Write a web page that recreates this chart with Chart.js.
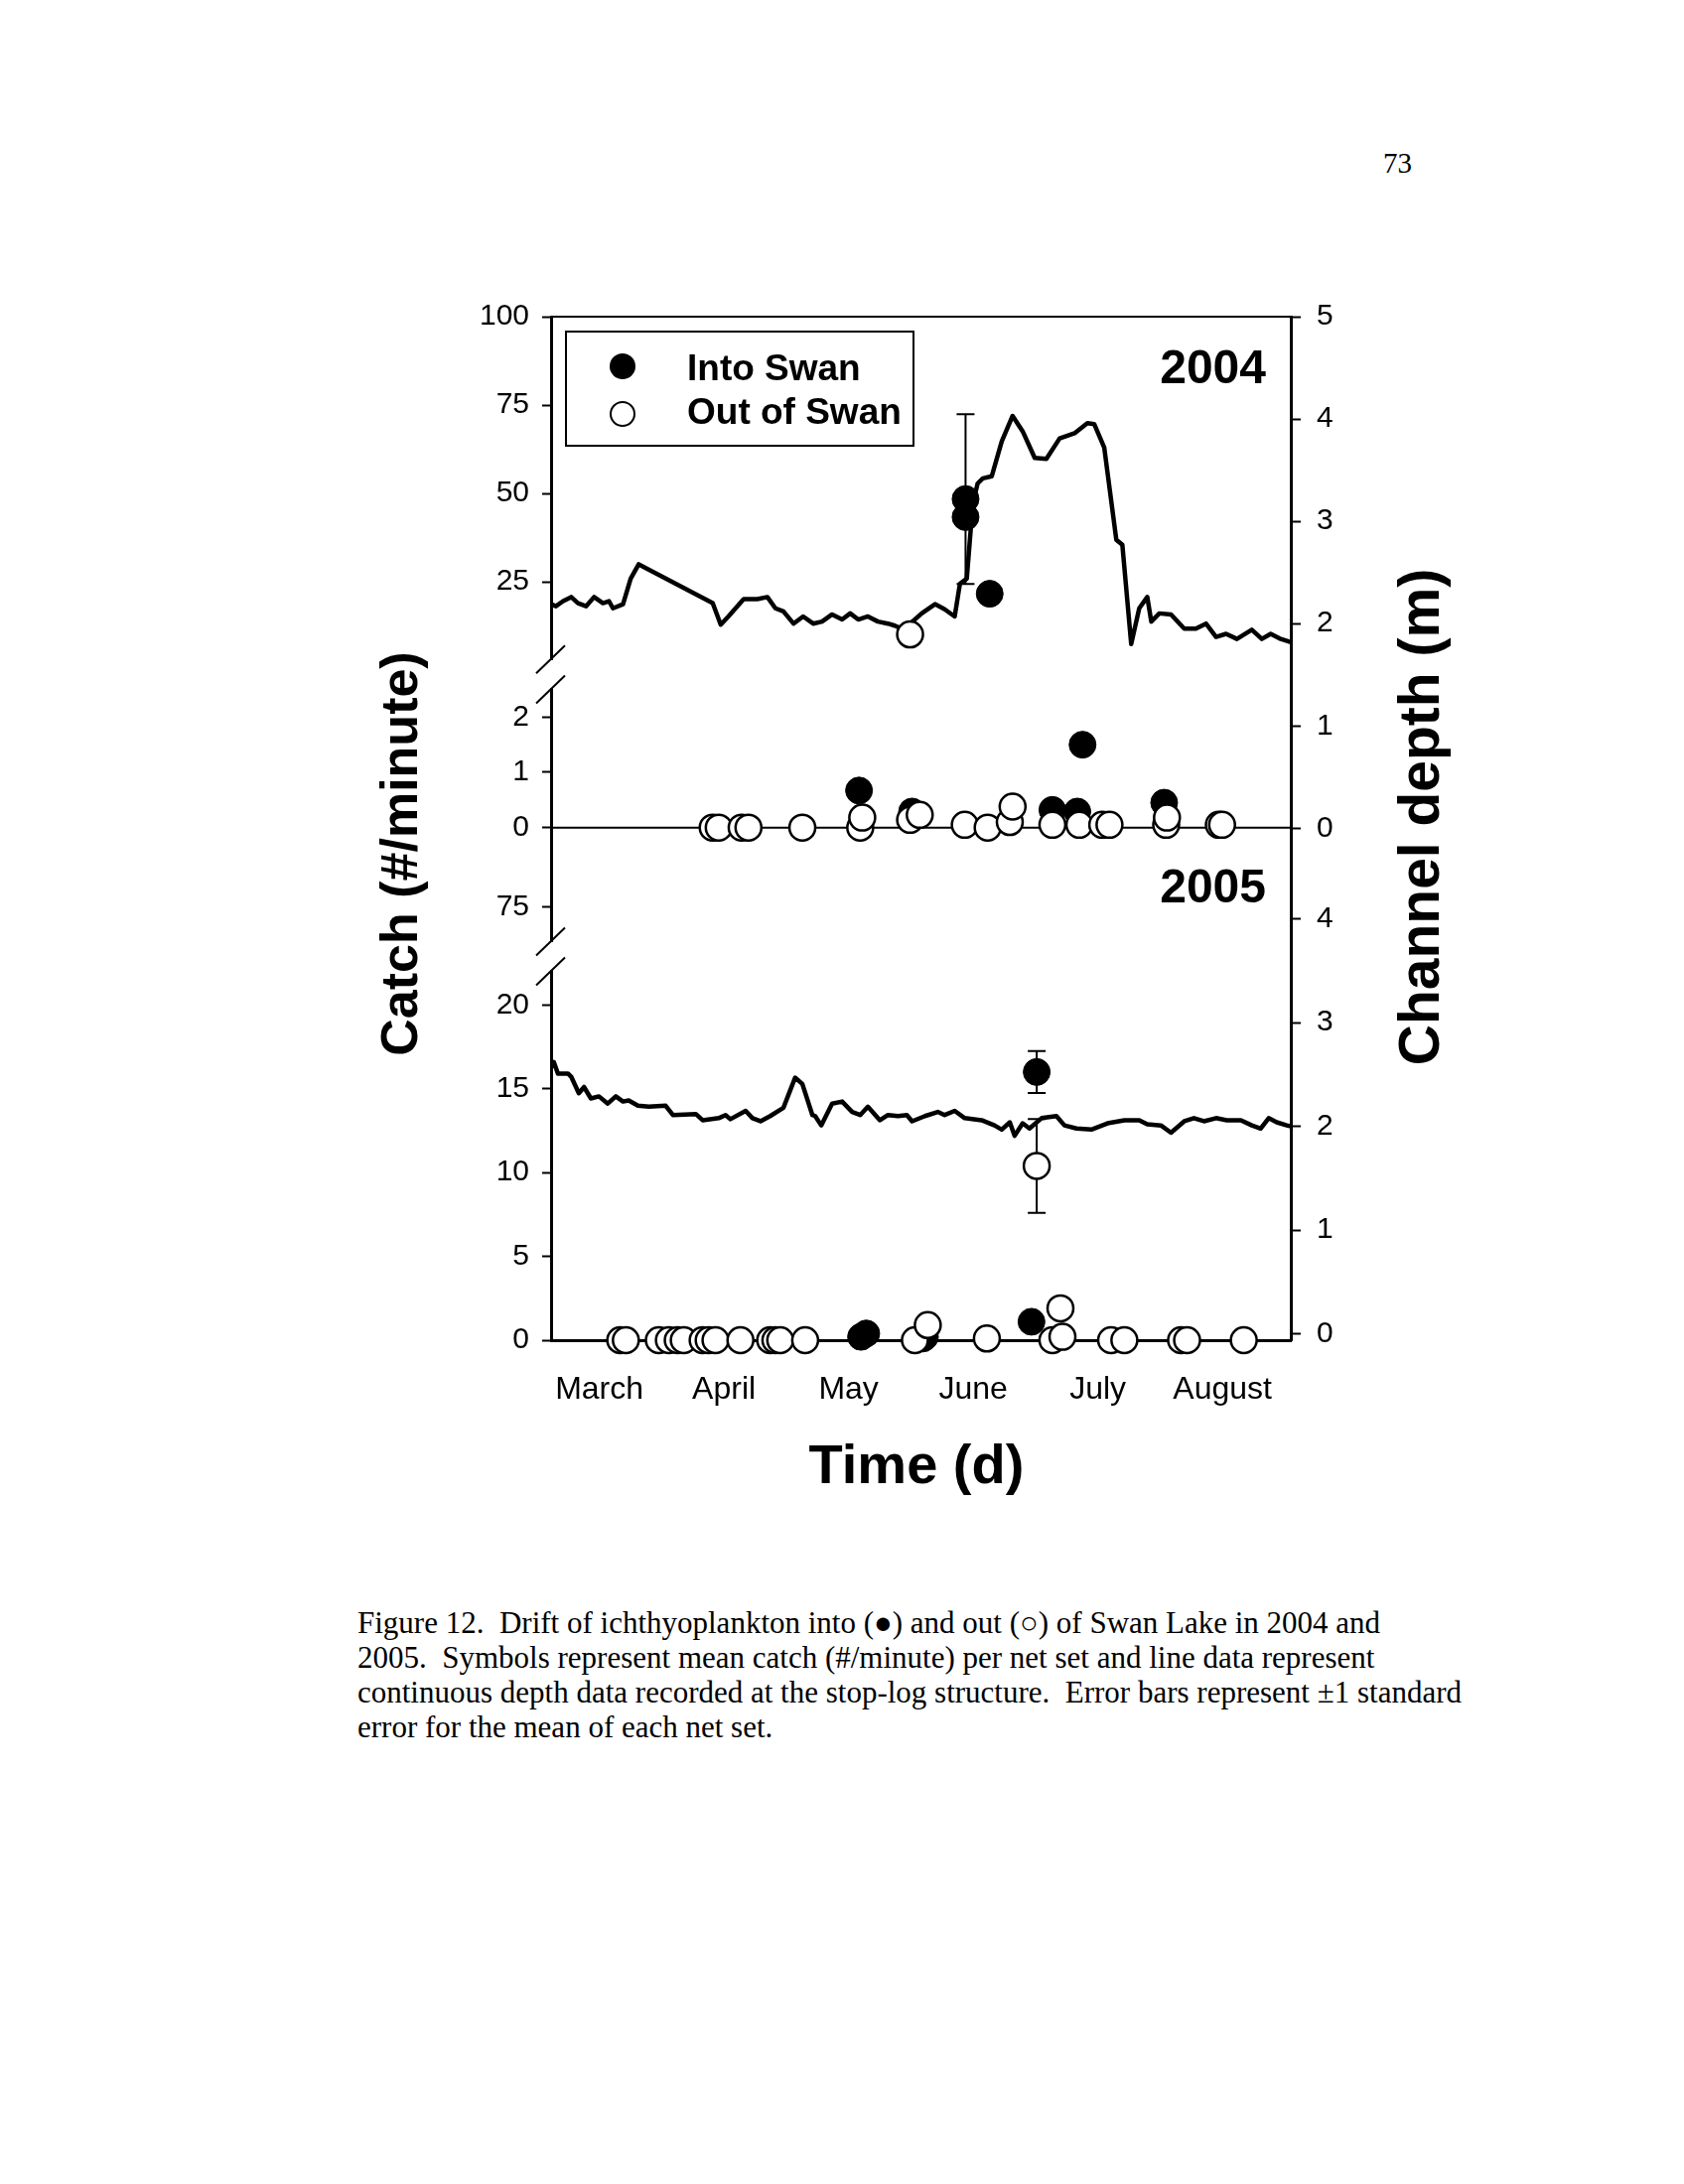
<!DOCTYPE html>
<html>
<head>
<meta charset="utf-8">
<script src="https://cdn.jsdelivr.net/npm/chart.js@4.4.1/dist/chart.umd.min.js"></script>
<style>
  html, body { margin: 0; padding: 0; background: #fff; }
  body { width: 1696px; height: 2200px; position: relative; overflow: hidden;
         font-family: 'Liberation Sans', Arial, sans-serif; color: #000; }
  .abs { position: absolute; white-space: nowrap; line-height: 1; }
  .serif { font-family: 'Liberation Serif', 'Times New Roman', serif; font-size: 29px; }
  .cap { font-size: 31px; }
  .bold { font-weight: bold; }
  #wrap { position: absolute; left: 464px; top: 285px; width: 896px; height: 1145px; }
  #legend { position: absolute; left: 569px; top: 333px; width: 352px; height: 117px;
            border: 2.5px solid #000; box-sizing: border-box; }
  .dot { position: absolute; width: 26px; height: 26px; border-radius: 50%; box-sizing: border-box; }
</style>
</head>
<body>

<div class="abs serif" style="left:1393px; top:150px;">73</div>

<div id="wrap"><canvas id="chart"></canvas></div>

<div id="legend"></div>
<div class="dot" style="left:614px; top:356px; background:#000;"></div>
<div class="dot" style="left:614px; top:404px; border:2px solid #000; background:#fff;"></div>
<div class="abs bold" style="left:692px; top:352px; font-size:37px;">Into Swan</div>
<div class="abs bold" style="left:692px; top:396px; font-size:37px;">Out of Swan</div>

<div class="abs bold" style="right:421px; top:346px; font-size:48px;">2004</div>
<div class="abs bold" style="right:421px; top:869px; font-size:48px;">2005</div>

<div class="abs bold" style="left:402px; top:860px; font-size:52px; transform:translate(-50%,-50%) rotate(-90deg);">Catch (#/minute)</div>
<div class="abs bold" style="left:1429px; top:823px; font-size:57px; transform:translate(-50%,-50%) rotate(-90deg);">Channel depth (m)</div>
<div class="abs bold" style="left:923px; top:1447px; font-size:56px; transform:translateX(-50%);">Time (d)</div>

<div class="abs serif cap" style="left:360px; top:1619px;">Figure 12.&nbsp; Drift of ichthyoplankton into (●) and out (○) of Swan Lake in 2004 and</div>
<div class="abs serif cap" style="left:360px; top:1654px;">2005.&nbsp; Symbols represent mean catch (#/minute) per net set and line data represent</div>
<div class="abs serif cap" style="left:360px; top:1689px;">continuous depth data recorded at the stop-log structure.&nbsp; Error bars represent ±1 standard</div>
<div class="abs serif cap" style="left:360px; top:1724px;">error for the mean of each net set.</div>

<script>
// x values are days counted from the start of March
const monthTicks = [12, 43, 74, 105, 136, 167];
const monthNames = ["March", "April", "May", "June", "July", "August"];

const catchHi04Ticks = [25, 50, 75, 100];
const catchLo04Ticks = [0, 1, 2];
const catchHi05Ticks = [75];
const catchLo05Ticks = [0, 5, 10, 15, 20];
const depth04Ticks = [0, 1, 2, 3, 4, 5];
const depth05Ticks = [0, 1, 2, 3, 4];

// channel depth (m), 2004
const depth04Day = [0, 1.2, 3.0, 5.0, 6.7, 8.7, 10.7, 12.9, 14.4, 15.4, 17.9, 19.8, 21.8, 40.2, 42.2, 44.1,
  47.9, 51.3, 53.8, 55.8, 57.8, 60.3, 62.7, 65.2, 67.4, 69.9, 72.4, 74.4, 76.4, 78.8, 81.3, 83.8, 85.5,
  87.3, 89.3, 92.2, 95.5, 97.9, 100.4, 101.7, 103.4, 104.9, 106.1, 107.4, 109.6, 112.1, 114.8, 117.3,
  120.3, 123.2, 126.5, 130.2, 133.4, 135.1, 137.6, 140.6, 142.1, 144.3, 146.3, 148.3, 149.3, 151.3,
  154.2, 157.5, 160.4, 162.9, 165.4, 167.9, 170.6, 174.3, 176.8, 179.0, 181.5, 184.0];
const depth04 = [2.19, 2.17, 2.22, 2.26, 2.20, 2.17, 2.26, 2.20, 2.22, 2.15, 2.19, 2.44, 2.58, 2.20, 1.99, 2.07,
  2.24, 2.24, 2.26, 2.15, 2.12, 2.00, 2.07, 2.00, 2.02, 2.09, 2.04, 2.10, 2.04, 2.07, 2.02, 2.00, 1.98,
  1.95, 2.00, 2.10, 2.19, 2.14, 2.07, 2.39, 2.44, 3.17, 3.37, 3.42, 3.44, 3.78, 4.03, 3.88,
  3.62, 3.61, 3.81, 3.86, 3.96, 3.95, 3.72, 2.82, 2.77, 1.80, 2.15, 2.26, 2.02, 2.10,
  2.09, 1.95, 1.95, 2.00, 1.87, 1.90, 1.85, 1.94, 1.85, 1.90, 1.85, 1.82];

// channel depth (m), 2005
const depth05Day = [0, 0.7, 1.7, 4.2, 5.0, 6.9, 8.2, 9.9, 11.9, 14.1, 16.1, 17.9, 19.3, 21.6, 24.3, 28.5,
  30.3, 36.0, 37.7, 41.7, 43.4, 44.6, 48.4, 50.1, 52.1, 54.5, 57.8, 60.7, 62.5, 65.0, 65.7, 67.2, 69.9,
  72.4, 74.9, 76.9, 78.8, 81.8, 83.8, 86.3, 88.5, 89.8, 93.0, 96.2, 97.9, 100.4, 102.9, 107.1, 110.3,
  112.1, 114.1, 115.3, 117.3, 119.0, 122.0, 125.7, 127.7, 130.7, 134.4, 138.4, 142.6, 146.3, 148.3,
  151.7, 154.2, 157.5, 159.9, 162.4, 165.4, 168.1, 171.6, 174.3, 176.5, 178.5, 180.5, 183.0, 184.0];
const depth05 = [2.57, 2.62, 2.51, 2.51, 2.48, 2.32, 2.38, 2.27, 2.29, 2.22, 2.29, 2.24, 2.25, 2.20, 2.19, 2.20,
  2.11, 2.12, 2.06, 2.08, 2.11, 2.07, 2.15, 2.08, 2.05, 2.10, 2.18, 2.47, 2.41, 2.11, 2.10, 2.01, 2.22,
  2.24, 2.14, 2.11, 2.19, 2.06, 2.11, 2.10, 2.11, 2.05, 2.10, 2.14, 2.11, 2.15, 2.08, 2.06, 2.01,
  1.97, 2.04, 1.91, 2.03, 1.98, 2.08, 2.10, 2.01, 1.98, 1.97, 2.03, 2.06, 2.06, 2.02,
  2.01, 1.94, 2.05, 2.08, 2.05, 2.08, 2.06, 2.06, 2.01, 1.98, 2.08, 2.04, 2.01, 2.00];

// catch (#/minute) and standard error, 2004
const into04Day = [76.6, 89.8, 103.1, 103.1, 109.1, 124.7, 130.9, 132.2, 152.5];
const into04 = [0.67, 0.29, 48.4, 43.3, 21.6, 0.32, 0.29, 1.5, 0.45];
const into04Err = [0, 0, 24, 0, 0, 0, 0, 0.06, 0];
const out04Day = [40.2, 41.7, 47.4, 49.1, 62.5, 76.9, 77.4, 89.3, 91.7, 89.3, 102.9, 108.6, 114.1, 114.8,
  124.7, 131.4, 137.1, 138.9, 153.0, 153.2, 166.1, 166.9];
const out04 = [0, 0, 0, 0, 0, 0, 0.18, 0.14, 0.23, 10.1, 0.05, 0, 0.1, 0.38,
  0.05, 0.05, 0.05, 0.05, 0.05, 0.18, 0.05, 0.05];

// catch (#/minute) and standard error, 2005
const into05Day = [77.1, 78.4, 92.5, 93.0, 119.5, 120.8];
const into05 = [0.2, 0.4, 0.1, 0.2, 1.1, 16.0];
const into05Err = [0, 0, 0, 0, 0, 1.25];
const out05Day = [17.2, 18.6, 26.8, 29.3, 31.5, 33.0, 37.7, 39.2, 40.9, 47.1, 54.5, 55.8, 57.0, 63.2,
  90.5, 93.7, 108.4, 120.8, 124.7, 126.7, 127.2, 139.3, 142.6, 156.7, 158.2, 172.3];
const out05 = [0, 0, 0, 0, 0, 0, 0, 0, 0, 0, 0, 0, 0, 0,
  0, 0.9, 0.1, 10.4, 0, 1.9, 0.2, 0, 0, 0, 0, 0];
const out05Err = [0, 0, 0, 0, 0, 0, 0, 0, 0, 0, 0, 0, 0, 0,
  0, 0, 0, 2.8, 0, 0, 0, 0, 0, 0, 0, 0];

const black = "#000";
Chart.defaults.font.family = "'Liberation Sans', Arial, Helvetica, sans-serif";
Chart.defaults.font.size = 30;
Chart.defaults.color = black;

function pts(days, vals, errs, keep) {
  return days
    .map((d, i) => ({ x: d, y: vals[i], err: errs ? errs[i] : 0 }))
    .filter(p => (keep ? keep(p.y) : true));
}
const line = (days, vals) => days.map((d, i) => ({ x: d, y: vals[i] }));
const setTicks = list => s => { s.ticks = list.map(v => ({ value: v })); };

function catchAxis(min, max, ticks, weight, px) {
  return {
    type: "linear", position: "left", stack: "catch", stackWeight: px, weight: weight,
    min: min, max: max, bounds: "data",
    afterBuildTicks: setTicks(ticks),
    afterFit: s => { s.width = 91; },
    grid: { drawOnChartArea: false, tickLength: 9, tickWidth: 2, tickColor: black },
    border: { display: true, color: black, width: 3 },
    ticks: { padding: 13, color: black }
  };
}
function gapAxis(weight, px) {
  return { type: "linear", position: "left", stack: "catch", stackWeight: px, weight: weight,
           display: false, min: 0, max: 1 };
}
function depthAxis(min, max, ticks, weight, px) {
  return {
    type: "linear", position: "right", stack: "depth", stackWeight: px, weight: weight,
    min: min, max: max, bounds: "data",
    afterBuildTicks: setTicks(ticks),
    afterFit: s => { s.width = 60; },
    grid: { drawOnChartArea: false, tickLength: 10, tickWidth: 2, tickColor: black },
    border: { display: true, color: black, width: 3 },
    ticks: { padding: 16, color: black }
  };
}

const openPt = { pointRadius: 13, pointBackgroundColor: "#fff", pointBorderColor: black,
                 pointBorderWidth: 2.5, order: 1, clip: false };
const fillPt = { pointRadius: 13.5, pointBackgroundColor: black, pointBorderColor: black,
                 pointBorderWidth: 1, order: 2, clip: false };
const depthLine = { showLine: true, borderColor: black, borderWidth: 4.5, pointRadius: 0,
                    tension: 0, fill: false, order: 3, borderJoinStyle: "round" };

// error bars, zero line, frame and axis breaks
const extras = {
  id: "extras",
  beforeDatasetsDraw(chart) {
    const { ctx, chartArea: a, scales } = chart;
    ctx.save();
    ctx.strokeStyle = black;
    ctx.lineWidth = 2;
    const y0 = scales.yB.getPixelForValue(0);
    ctx.beginPath();
    ctx.moveTo(a.left, y0);
    ctx.lineTo(a.right, y0);
    ctx.moveTo(a.left, a.top);
    ctx.lineTo(a.right, a.top);
    ctx.stroke();
    chart.data.datasets.forEach((ds, i) => {
      const meta = chart.getDatasetMeta(i);
      const ys = scales[ds.yAxisID];
      ds.data.forEach((p, j) => {
        if (!p.err) return;
        const x = meta.data[j].x;
        const top = ys.getPixelForValue(p.y + p.err);
        const bot = ys.getPixelForValue(p.y - p.err);
        ctx.beginPath();
        ctx.moveTo(x, top); ctx.lineTo(x, bot);
        ctx.moveTo(x - 9, top); ctx.lineTo(x + 9, top);
        ctx.moveTo(x - 9, bot); ctx.lineTo(x + 9, bot);
        ctx.stroke();
      });
    });
    ctx.restore();
  },
  afterDraw(chart) {
    const { ctx, chartArea: a, scales } = chart;
    ctx.save();
    ctx.strokeStyle = black;
    ctx.lineWidth = 2;
    [scales.yA.bottom, scales.yB.top, scales.yC.bottom, scales.yD.top].forEach(y => {
      ctx.beginPath();
      ctx.moveTo(a.left - 15, y + 14);
      ctx.lineTo(a.left + 14, y - 14);
      ctx.stroke();
    });
    ctx.restore();
  }
};

new Chart(document.getElementById("chart"), {
  type: "scatter",
  data: {
    datasets: [
      { ...openPt, yAxisID: "yA", data: pts(out04Day, out04, null, v => v >= 3) },
      { ...openPt, yAxisID: "yB", data: pts(out04Day, out04, null, v => v < 3) },
      { ...openPt, yAxisID: "yD", data: pts(out05Day, out05, out05Err) },
      { ...fillPt, yAxisID: "yA", data: pts(into04Day, into04, into04Err, v => v >= 3) },
      { ...fillPt, yAxisID: "yB", data: pts(into04Day, into04, into04Err, v => v < 3) },
      { ...fillPt, yAxisID: "yD", data: pts(into05Day, into05, into05Err) },
      { ...depthLine, yAxisID: "rA", data: line(depth04Day, depth04) },
      { ...depthLine, yAxisID: "rB", data: line(depth05Day, depth05) }
    ]
  },
  options: {
    responsive: true,
    maintainAspectRatio: false,
    animation: false,
    events: [],
    layout: { padding: { top: 20, left: 0, right: 0, bottom: 0 } },
    plugins: { legend: { display: false }, tooltip: { enabled: false } },
    scales: {
      x: {
        type: "linear", position: "bottom", min: 0, max: 184, bounds: "data",
        afterBuildTicks: setTicks(monthTicks),
        afterFit: s => { s.height = 80; },
        grid: { drawOnChartArea: false, drawTicks: false },
        border: { display: true, color: black, width: 3 },
        ticks: { padding: 31, autoSkip: false, maxRotation: 0, color: black,
                 font: { size: 32 }, callback: (v, i) => monthNames[i] }
      },
      yA: catchAxis(3, 100, catchHi04Ticks, 6, 344),
      g1: gapAxis(5, 30),
      yB: catchAxis(-0.8, 2.5, catchLo04Ticks, 4, 183),
      yC: catchAxis(70, 80, catchHi05Ticks, 3, 70),
      g2: gapAxis(2, 30),
      yD: catchAxis(0, 22, catchLo05Ticks, 1, 370),
      rA: depthAxis(-0.43, 5, depth04Ticks, 1, 558),
      rB: depthAxis(-0.06, 4.45, depth05Ticks, 2, 470)
    }
  },
  plugins: [extras]
});
</script>
</body>
</html>
